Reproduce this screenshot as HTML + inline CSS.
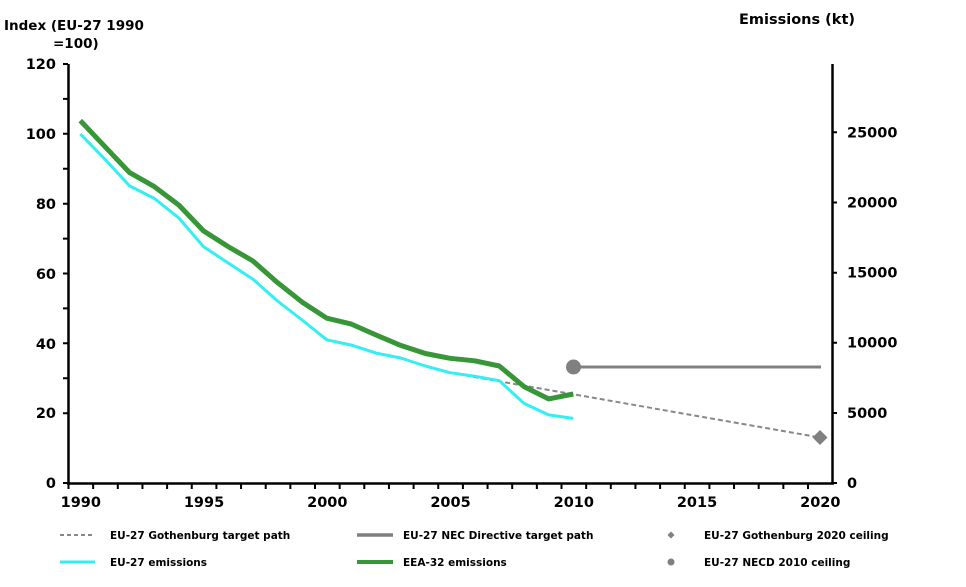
<!DOCTYPE html>
<html><head><meta charset="utf-8"><style>
html,body{margin:0;padding:0;background:#fff;}
svg{display:block;}
text{font-family:"DejaVu Sans","Liberation Sans",sans-serif;font-weight:bold;fill:#000;}
</style></head><body>
<svg width="966" height="587" viewBox="0 0 966 587" xmlns="http://www.w3.org/2000/svg">
<text x="4" y="30" font-size="13.5">Index (EU-27 1990</text>
<text x="53" y="48" font-size="13.5">=100)</text>
<text x="739" y="24" font-size="14.5">Emissions (kt)</text>

<path d="M450 372.7 L820 437.5" fill="none" stroke="#888" stroke-width="2" stroke-dasharray="5,3"/>
<path d="M573.3 367 L821 367" fill="none" stroke="#808080" stroke-width="3"/>
<circle cx="573.5" cy="367" r="7.5" fill="#808080"/>
<polygon points="820,430 827.5,437.5 820,445 812.5,437.5" fill="#808080"/>
<polyline fill="none" stroke="#33EEF2" stroke-width="3" stroke-linejoin="round" points="80.3,134 105,159.3 129.6,185.9 154.3,198.4 178.9,218 203.5,246.6 228.2,263 252.8,279.1 277.5,301 302.1,320 326.8,339.8 351.4,345.1 376.1,353.1 400.7,358 425.4,366 450,372.7 474.7,376.2 499.3,380.7 524,403.4 548.6,414.9 573.3,418.4"/>
<polyline fill="none" stroke="#379637" stroke-width="5" stroke-linejoin="round" points="80.3,120.6 105,146.7 129.6,172.6 154.3,186.6 178.9,205.1 203.5,230.9 228.2,246.6 252.8,260.9 277.5,282.6 302.1,302.1 326.8,318.2 351.4,324.1 376.1,335 400.7,345.4 425.4,353.5 450,358.3 474.7,360.8 499.3,366 524,386.6 548.6,398.9 573.3,394"/>

<path d="M68.5 64 V484.5 M832.5 64 V484.5 M67 483.5 H834" stroke="#000" stroke-width="2.5" fill="none"/>
<path d="M63 64h5M63 98.9h5M63 133.8h5M63 168.8h5M63 203.7h5M63 238.6h5M63 273.5h5M63 308.4h5M63 343.3h5M63 378.3h5M63 413.2h5M63 483h5" stroke="#000" stroke-width="2"/>
<path d="M833 132.3h4M833 202.5h4M833 272.7h4M833 342.8h4M833 413h4M833 483h4" stroke="#000" stroke-width="2"/>
<path d="M68.5 483v6m24.65 -6v6m24.65 -6v6m24.65 -6v6m24.65 -6v6m24.65 -6v6m24.65 -6v6m24.65 -6v6m24.65 -6v6m24.65 -6v6m24.65 -6v6m24.65 -6v6m24.65 -6v6m24.65 -6v6m24.65 -6v6m24.65 -6v6m24.65 -6v6m24.65 -6v6m24.65 -6v6m24.65 -6v6m24.65 -6v6m24.65 -6v6m24.65 -6v6m24.65 -6v6m24.65 -6v6m24.65 -6v6m24.65 -6v6m24.65 -6v6m24.65 -6v6m24.65 -6v6m24.65 -6v6" stroke="#000" stroke-width="2" fill="none"/>

<g font-size="14.5" text-anchor="end">
<text x="56" y="69">120</text>
<text x="56" y="139">100</text>
<text x="56" y="209">80</text>
<text x="56" y="279">60</text>
<text x="56" y="349">40</text>
<text x="56" y="418">20</text>
<text x="56" y="488">0</text>
</g>
<g font-size="14.5">
<text x="847" y="137.5">25000</text>
<text x="847" y="207.5">20000</text>
<text x="847" y="277.5">15000</text>
<text x="847" y="347.5">10000</text>
<text x="847" y="418">5000</text>
<text x="847" y="488">0</text>
</g>
<g font-size="14.5" text-anchor="middle">
<text x="80.8" y="507">1990</text>
<text x="204" y="507">1995</text>
<text x="327.3" y="507">2000</text>
<text x="450.5" y="507">2005</text>
<text x="573.8" y="507">2010</text>
<text x="697" y="507">2015</text>
<text x="820.3" y="507">2020</text>
</g>

<path d="M60 535H95" stroke="#888" stroke-width="2" stroke-dasharray="4,3"/>
<path d="M60 562H95" stroke="#33EEF2" stroke-width="3"/>
<path d="M357 535H393" stroke="#808080" stroke-width="3.5"/>
<path d="M357 562H393" stroke="#379637" stroke-width="4"/>
<polygon points="671,531.5 674.5,535 671,538.5 667.5,535" fill="#808080"/>
<circle cx="671" cy="562" r="3.5" fill="#808080"/>
<g font-size="10.5">
<text x="110" y="539">EU-27 Gothenburg target path</text>
<text x="110" y="566">EU-27 emissions</text>
<text x="403" y="539">EU-27 NEC Directive target path</text>
<text x="403" y="566">EEA-32 emissions</text>
<text x="704" y="539">EU-27 Gothenburg 2020 ceiling</text>
<text x="704" y="566">EU-27 NECD 2010 ceiling</text>
</g>
</svg>
</body></html>
